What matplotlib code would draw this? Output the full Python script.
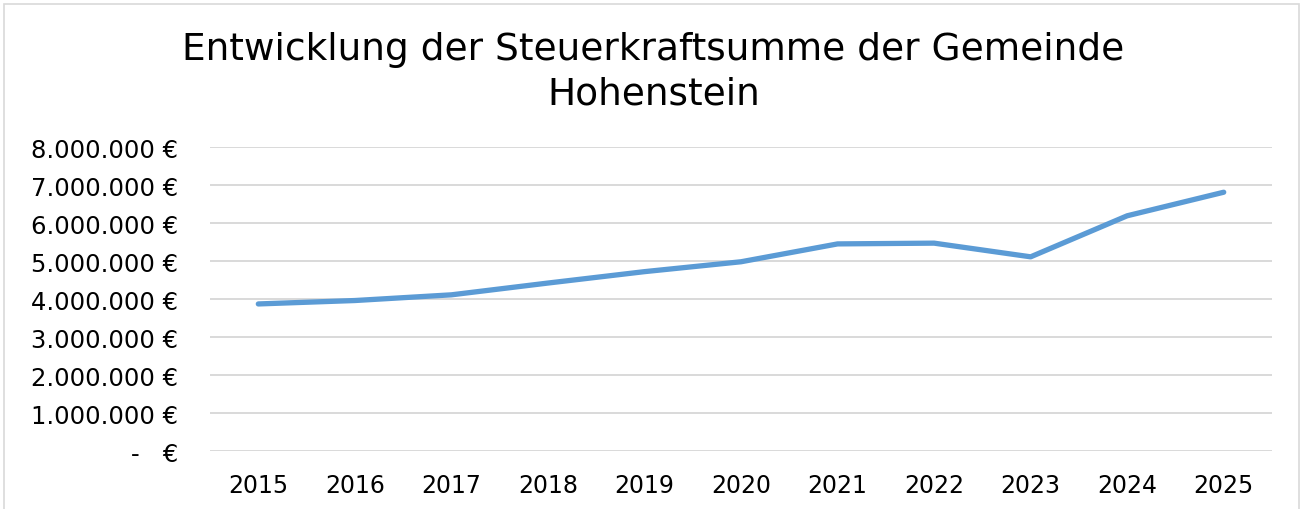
import numpy as np
import matplotlib
matplotlib.use('Agg')
import matplotlib.pyplot as plt
from matplotlib.patches import Rectangle

# Daten: Steuerkraftsumme je Jahr
jahre = ['2015', '2016', '2017', '2018', '2019', '2020', '2021', '2022', '2023', '2024', '2025']
steuerkraft = [3870000, 3960000, 4110000, 4420000, 4720000, 4980000,
               5450000, 5470000, 5110000, 6190000, 6810000]
y_ticks = [0, 1000000, 2000000, 3000000, 4000000, 5000000, 6000000, 7000000, 8000000]

plt.rcParams['font.family'] = ['DejaVu Sans']

fig = plt.figure(figsize=(13.03, 5.10), dpi=100)
ax = fig.add_axes([0.1612, 0.1137, 0.815, 0.5961])

x = np.arange(len(jahre))
ax.plot(x, steuerkraft, color='#5B9BD5', linewidth=3.8, solid_capstyle='round',
        solid_joinstyle='round', zorder=3)

def euro(v):
    if v == 0:
        return '-   €'
    return '{:,.0f}'.format(v).replace(',', '.') + ' €'

ax.set_ylim(0, 8000000)
ax.set_xlim(-0.5, len(jahre) - 0.5)
ax.set_yticks(y_ticks)
ax.set_yticklabels([euro(v) for v in y_ticks])
ax.set_xticks(x)
ax.set_xticklabels(jahre)
ax.tick_params(axis='both', length=0, colors='#000000')
ax.tick_params(axis='y', pad=23, labelsize=17.5)
ax.tick_params(axis='x', pad=16, labelsize=17)
ax.grid(axis='y', color='#D9D9D9', linewidth=1.4)
ax.set_axisbelow(True)
for s in ax.spines.values():
    s.set_visible(False)

fig.text(0.5015, 0.859, 'Entwicklung der Steuerkraftsumme der Gemeinde\nHohenstein',
         ha='center', va='center', fontsize=27, linespacing=1.3)

# Rahmen um das Diagramm
fig.patches.append(Rectangle((0.003, -0.02), 0.994, 1.01, transform=fig.transFigure,
                             fill=False, edgecolor='#D9D9D9', linewidth=1.2))

plt.savefig('out.png', dpi=100)
